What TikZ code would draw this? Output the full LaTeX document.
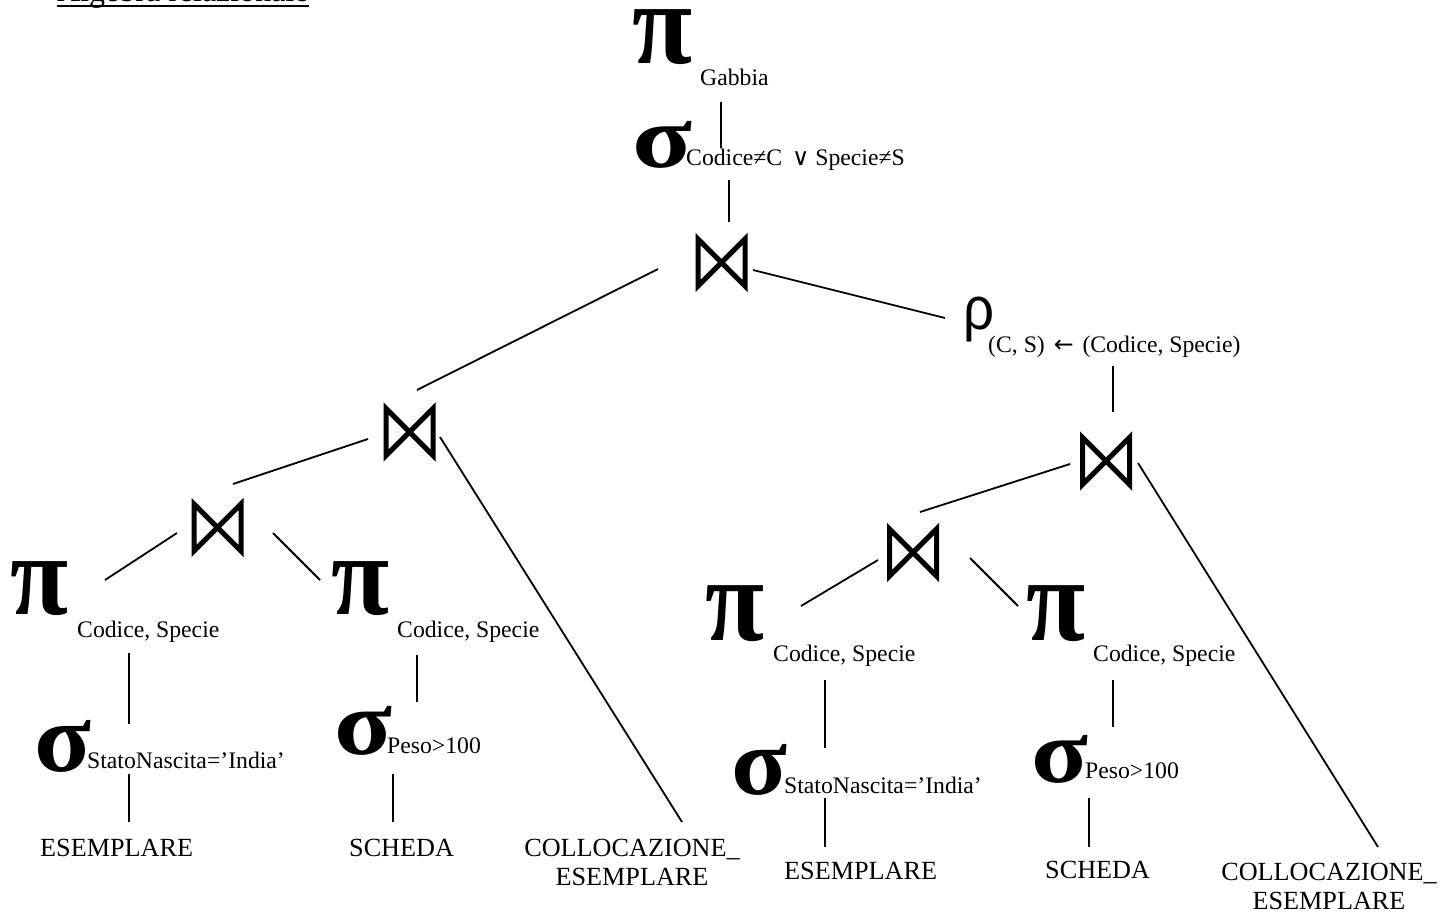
\documentclass[tikz,border=0pt]{standalone}
\usepackage{fontspec}
\usepackage{graphicx}
\setmainfont{Liberation Serif}
\newfontfamily\symsans{Liberation Sans}
\newfontfamily\dvs{DejaVu Sans}
\newfontfamily\dvserif{DejaVu Serif}
\usetikzlibrary{calc}
\newcommand{\symb}[3]{\resizebox*{#1pt}{#2pt}{#3}}
\begin{document}
\begin{tikzpicture}[x=1pt,y=-1pt,
  sym/.style={inner sep=0pt, outer sep=0pt, anchor=center},
  bow/.style={inner sep=0pt, outer sep=0pt, minimum width=47pt, minimum height=47pt},
  bowline/.style={line width=5pt, line join=miter},
  sub/.style={inner sep=0pt, anchor=base west, font=\fontsize{23.7}{26}\selectfont},
  leaf/.style={inner sep=0pt, font=\fontsize{26.2}{29}\selectfont},
  edge/.style={line width=1.8pt}]
\useasboundingbox (0,0) rectangle (1451,913);
% title
\node[inner sep=0pt, anchor=base west, font=\fontsize{32}{36}\selectfont] (title) at (57,1.5) {Algebra relazionale};
\draw[line width=2.5pt] ($(title.base west)+(0,4.5)$) -- ($(title.base east)+(0,4.5)$);
% operators
\node[sym] (p0) at (662.5,37) {\symb{60}{55}{\bfseries π}};
\node[sub] (p0s) at (700,85) {Gabbia};
\node[sym] (s0) at (662.5,144.5) {\symb{60}{47}{\bfseries σ}};
\node[sub] (s0s) at (686,165) {Codice≠C\hspace{10pt}{\dvserif ∨} Specie≠S};
\node[bow] (b0) at (721.5,262.5) {};
\node[sym] (r0) at (979,319.5) {\symb{31}{45}{\symsans ρ}};
\node[sub] (r0s) at (988,352) {(C, S)\hspace{3pt} {\dvs ←}\hspace{3pt} (Codice, Specie)};
\node[bow] (b1) at (409.5,432) {};
\node[bow] (b2) at (1106,461) {};
\node[bow] (b3) at (217.5,527.5) {};
\node[bow] (b4) at (913,552.5) {};
\node[sym] (p1) at (40,588.5) {\symb{58}{54}{\bfseries π}};
\node[sub] (p1s) at (77,637) {Codice, Specie};
\node[sym] (p2) at (361,588.5) {\symb{58}{54}{\bfseries π}};
\node[sub] (p2s) at (397,637) {Codice, Specie};
\node[sym] (p3) at (735.5,613.5) {\symb{59}{56}{\bfseries π}};
\node[sub] (p3s) at (773,661) {Codice, Specie};
\node[sym] (p4) at (1056,613.5) {\symb{59}{56}{\bfseries π}};
\node[sub] (p4s) at (1093,661) {Codice, Specie};
\node[sym] (s1) at (63,746) {\symb{57}{52}{\bfseries σ}};
\node[sub] (s1s) at (87,768) {StatoNascita=’India’};
\node[sym] (s2) at (363.5,730.5) {\symb{58}{49}{\bfseries σ}};
\node[sub] (s2s) at (387,753) {Peso>100};
\node[sym] (s3) at (759.5,769.5) {\symb{56}{51}{\bfseries σ}};
\node[sub] (s3s) at (784,793) {StatoNascita=’India’};
\node[sym] (s4) at (1060,759) {\symb{57}{48}{\bfseries σ}};
\node[sub] (s4s) at (1085,778) {Peso>100};
% leaves
\node[leaf, anchor=base west] (e1) at (40,856) {ESEMPLARE};
\node[leaf, anchor=base west] (h1) at (349,856) {SCHEDA};
\node[leaf, anchor=base] (c1) at (632,885) {\begin{tabular}[b]{@{}c@{}}COLLOCAZIONE\_\\ESEMPLARE\end{tabular}};
\node[leaf, anchor=base west] (e2) at (784,879) {ESEMPLARE};
\node[leaf, anchor=base west] (h2) at (1045,878) {SCHEDA};
\node[leaf, anchor=base] (c2) at (1329,909) {\begin{tabular}[b]{@{}c@{}}COLLOCAZIONE\_\\ESEMPLARE\end{tabular}};
% join symbols
\foreach \b in {b0,b1,b2,b3,b4}
  \draw[bowline] (\b.north west) -- (\b.south west) -- (\b.north east) -- (\b.south east) -- cycle;
% connectors
\draw[edge] ($(p0)+(58.5,64.5)$) -- ($(s0)+(58.5,3.5)$);
\draw[edge] ($(s0)+(66.5,35.5)$) -- ($(b0)+(7.5,-40.5)$);
\draw[edge] ($(b0)+(-63.5,6.5)$) -- ($(b1)+(7.5,-42)$);
\draw[edge] ($(b0)+(31.5,7.5)$) -- ($(r0)+(-34,-1.5)$);
\draw[edge] ($(r0)+(134,46.5)$) -- ($(b2)+(7,-49)$);
\draw[edge] ($(b1)+(-41.5,7)$) -- ($(b3)+(15.5,-43.5)$);
\draw[edge] ($(b1)+(30.5,5)$) -- ($(c1.base)+(50,-63)$);
\draw[edge] ($(b2)+(-36,3)$) -- ($(b4)+(7,-40.5)$);
\draw[edge] ($(b2)+(32,2)$) -- ($(c2.base)+(49,-62)$);
\draw[edge] ($(b3)+(-40.5,5.5)$) -- ($(p1)+(65,-8.5)$);
\draw[edge] ($(b3)+(55.5,5.5)$) -- ($(p2)+(-41,-8.5)$);
\draw[edge] ($(b4)+(-35,7.5)$) -- ($(p3)+(65.5,-7.5)$);
\draw[edge] ($(b4)+(57,5.5)$) -- ($(p4)+(-38,-7.5)$);
\draw[edge] ($(p1)+(89,64.5)$) -- ($(s1)+(66,-22)$);
\draw[edge] ($(s1)+(66,28)$) -- ($(e1.base west)+(89,-34)$);
\draw[edge] ($(p2)+(56,66.5)$) -- ($(s2)+(53.5,-28.5)$);
\draw[edge] ($(s2)+(29.5,43.5)$) -- ($(h1.base west)+(44,-34)$);
\draw[edge] ($(p3)+(89.5,66.5)$) -- ($(s3)+(65.5,-21.5)$);
\draw[edge] ($(s3)+(65.5,28.5)$) -- ($(e2.base west)+(41,-32)$);
\draw[edge] ($(p4)+(57,66.5)$) -- ($(s4)+(53,-32)$);
\draw[edge] ($(s4)+(29,39)$) -- ($(h2.base west)+(44,-31)$);
\end{tikzpicture}
\end{document}
